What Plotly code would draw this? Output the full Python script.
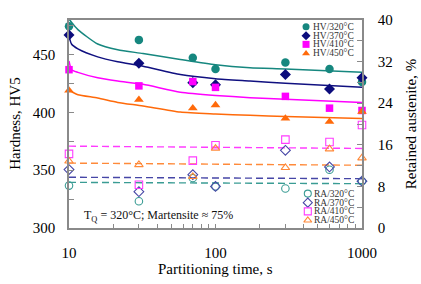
import plotly.graph_objects as go

# ---- data ----
time_s = [10, 30, 70, 100, 300, 600, 1000]

hv_320 = [474.5, 462.8, 447.3, 437.5, 443.3, 437.5, 426.4]
hv_370 = [467.0, 442.5, 425.8, 424.0, 432.8, 420.3, 430.0]
hv_410 = [437.0, 423.0, 426.7, 421.7, 413.9, 403.7, 401.7]
hv_450 = [419.0, 411.0, 403.7, 406.4, 394.8, 392.0, 400.8]

ra_320 = [8.15, 5.13, 9.6, 8.0, 7.6, 11.2, 9.0]
ra_370 = [11.24, 6.98, 10.26, 8.0, 14.94, 11.74, 9.0]
ra_410 = [14.26, 8.33, 12.96, 15.9, 17.0, 16.55, 19.8]
ra_450 = [12.85, 12.17, 9.89, 15.3, 11.6, 15.2, 13.46]

# fitted hardness curves
fit_t = [10, 10.4, 11.5, 15.7, 21.5, 32, 57.5, 100, 172, 300, 1000]
fit_320 = [481.0, 478.0, 471.7, 459.2, 454.2, 451.0, 445.8, 441.2, 438.6, 437.6, 434.7]
fit_370 = [466.2, 459.2, 455.0, 448.1, 443.9, 440.0, 432.8, 429.2, 427.2, 425.2, 421.7]
fit_410 = [444.5, 437.0, 434.7, 430.0, 427.2, 424.3, 417.5, 414.7, 412.8, 411.4, 408.7]
fit_450 = [418.9, 418.0, 415.3, 412.5, 408.7, 405.6, 400.3, 398.7, 397.5, 396.4, 394.7]

# mean retained-austenite lines
ra_fit_t = [10, 1000]
ra_fit_320 = [8.78, 8.52]
ra_fit_370 = [9.76, 9.48]
ra_fit_410 = [15.74, 15.3]
ra_fit_450 = [12.48, 12.07]

hv_names = ["HV/320°C", "HV/370°C", "HV/410°C", "HV/450°C"]
ra_names = ["RA/320°C", "RA/370°C", "RA/410°C", "RA/450°C"]

FONT = "Liberation Serif"
c_hv = ["#16877f", "#0c0c7c", "#ff00ff", "#ff6a0a"]
c_ra = ["#3a9c94", "#4646a6", "#ff3cff", "#ff8a3a"]
c_line = ["#16877f", "#101080", "#ff00ff", "#ff6a0a"]
sym_f = ["circle", "diamond", "square", "triangle-up"]
sym_o = ["circle-open", "diamond-open", "square-open", "triangle-up-open"]

fig = go.Figure()

ra_sets = [ra_320, ra_370, ra_410, ra_450]
ra_fits = [ra_fit_320, ra_fit_370, ra_fit_410, ra_fit_450]
for i in range(4):
    fig.add_trace(go.Scatter(x=ra_fit_t, y=ra_fits[i], mode="lines", yaxis="y2",
                             line=dict(color=c_ra[i], width=1.4, dash="7px,4px"),
                             showlegend=False, hoverinfo="skip"))
for i in range(4):
    fig.add_trace(go.Scatter(x=time_s, y=ra_sets[i], mode="markers", yaxis="y2",
                             marker=dict(symbol=sym_o[i], size=7.5, color=c_ra[i],
                                         line=dict(width=1.1, color=c_ra[i])),
                             showlegend=False, cliponaxis=False))

hv_sets = [hv_320, hv_370, hv_410, hv_450]
hv_fits = [fit_320, fit_370, fit_410, fit_450]
for i in range(4):
    fig.add_trace(go.Scatter(x=fit_t, y=hv_fits[i], mode="lines",
                             line=dict(color=c_line[i], width=1.5, shape="spline", smoothing=0.6),
                             showlegend=False, hoverinfo="skip"))
for i in range(4):
    fig.add_trace(go.Scatter(x=time_s, y=hv_sets[i], mode="markers",
                             marker=dict(symbol=sym_f[i], size=8.5 if i != 2 else 7.5, color=c_hv[i]),
                             showlegend=False, cliponaxis=False))

# manual legends on an overlay axis spanning the plot area
hv_leg_y = [0.9676, 0.9245, 0.8829, 0.8394]
ra_leg_y = [0.1653, 0.1218, 0.0801, 0.0370]
annotations = []
for i in range(4):
    fig.add_trace(go.Scatter(x=[0.809], y=[hv_leg_y[i]], xaxis="x3", yaxis="y3", mode="markers",
                             marker=dict(symbol=sym_f[i], size=7, color=c_hv[i]),
                             showlegend=False, cliponaxis=False, hoverinfo="skip"))
    fig.add_trace(go.Scatter(x=[0.815], y=[ra_leg_y[i]], xaxis="x3", yaxis="y3", mode="markers",
                             marker=dict(symbol=sym_o[i], size=7, color=c_ra[i],
                                         line=dict(width=1.1, color=c_ra[i])),
                             showlegend=False, cliponaxis=False, hoverinfo="skip"))
    annotations.append(dict(x=0.826, y=hv_leg_y[i], xref="paper", yref="paper", text=hv_names[i],
                            showarrow=False, xanchor="left", yanchor="middle",
                            font=dict(family=FONT, size=9.5, color="#333333")))
    annotations.append(dict(x=0.830, y=ra_leg_y[i], xref="paper", yref="paper", text=ra_names[i],
                            showarrow=False, xanchor="left", yanchor="middle",
                            font=dict(family=FONT, size=9.5, color="#333333")))

annotations.append(dict(x=0.046, y=0.057, xref="paper", yref="paper",
                        text="T<sub>Q</sub> = 320°C; Martensite ≈ 75%", showarrow=False,
                        xanchor="left", yanchor="middle", font=dict(family=FONT, size=12, color="#111")))
annotations.append(dict(x=-0.185, y=0.5, xref="paper", yref="paper", text="Hardness, HV5",
                        textangle=-90, showarrow=False, xanchor="center", yanchor="middle",
                        font=dict(family=FONT, size=15, color="#000")))
annotations.append(dict(x=1.168, y=0.5, xref="paper", yref="paper", text="Retained austenite, %",
                        textangle=-90, showarrow=False, xanchor="center", yanchor="middle",
                        font=dict(family=FONT, size=15, color="#000")))
annotations.append(dict(x=0.5, y=-0.199, xref="paper", yref="paper", text="Partitioning time, s",
                        showarrow=False, xanchor="center", yanchor="middle",
                        font=dict(family=FONT, size=15, color="#000")))

x_tickvals = [10, 20, 30, 40, 50, 60, 70, 80, 90, 100, 200, 300, 400, 500, 600, 700, 800, 900, 1000]
x_ticktext = ["10"] + [""] * 8 + ["100"] + [""] * 8 + ["1000"]

axcol = "#8a8a8a"
fig.update_layout(
    width=421, height=284,
    margin=dict(l=69, r=59, t=12, b=56),
    paper_bgcolor="white", plot_bgcolor="white",
    showlegend=False,
    font=dict(family=FONT, size=15, color="#000"),
    xaxis=dict(type="log", range=[1, 3], tickvals=x_tickvals, ticktext=x_ticktext,
               ticks="inside", ticklen=4, tickcolor=axcol, showline=True, linecolor=axcol,
               linewidth=1.5, mirror=True, showgrid=False, zeroline=False,
               ticklabelstandoff=10, tickfont=dict(family=FONT, size=15, color="#000")),
    yaxis=dict(range=[300, 480], tickvals=[300, 350, 400, 450], ticks="inside", ticklen=5,
               tickcolor=axcol, showline=True, linecolor=axcol, linewidth=1.5,
               showgrid=False, zeroline=False, ticklabelstandoff=9,
               minor=dict(ticks="inside", dtick=25, ticklen=5, tickcolor=axcol, showgrid=False),
               tickfont=dict(family=FONT, size=15, color="#000")),
    yaxis2=dict(range=[0, 40], overlaying="y", side="right", tickvals=[0, 8, 16, 24, 32, 40],
                ticks="inside", ticklen=5, tickcolor=axcol, showline=True, linecolor=axcol,
                linewidth=1.5, showgrid=False, zeroline=False, ticklabelstandoff=11,
                minor=dict(ticks="inside", dtick=4, ticklen=5, tickcolor=axcol, showgrid=False),
                tickfont=dict(family=FONT, size=15, color="#000")),
    xaxis3=dict(overlaying="x", range=[0, 1], visible=False, anchor="y3"),
    yaxis3=dict(overlaying="y", range=[0, 1], visible=False, anchor="x3"),
    annotations=annotations,
)

fig.write_html("out.html", config={"displayModeBar": False},
               post_script="document.body.style.margin='0';")
